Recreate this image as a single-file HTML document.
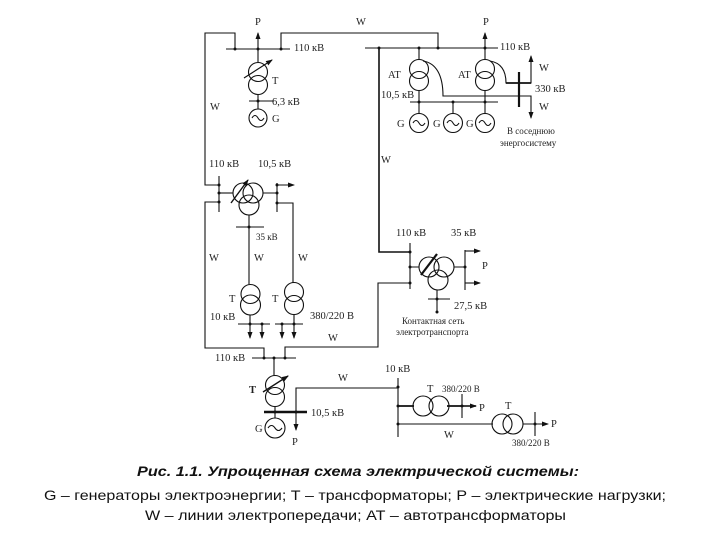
<!DOCTYPE html>
<html><head><meta charset="utf-8"><style>
html,body{margin:0;padding:0;background:#fff}
svg{display:block}
.l{font-family:"Liberation Serif",serif;font-size:10.5px;fill:#222}
.s{font-size:9px}
.c{font-family:"Liberation Sans",sans-serif;font-size:14px;fill:#111}
</style></head><body>
<svg width="720" height="540" viewBox="0 0 720 540" xmlns="http://www.w3.org/2000/svg">
<defs>
<marker id="a" markerWidth="7" markerHeight="6" refX="6" refY="3" orient="auto" markerUnits="userSpaceOnUse"><path d="M0,0.5L7,3L0,5.5z" fill="#111"/></marker>
</defs>
<g fill="none" stroke="#111" stroke-width="1.1">
<!-- outer wires -->
<path d="M235,49V33H205V185H219"/>
<path d="M281,49V33H438V48"/>
<path d="M226,49H290"/>
<path d="M365,48H498"/>
<path d="M379,48V252H410" stroke-width="1.6"/>
<path d="M410,283H378V347H285V358" />
<path d="M219,202H205V348H264V358"/>
<path d="M252,358H296"/>
<!-- T1 -->
<circle cx="258" cy="72" r="9.5"/><circle cx="258" cy="85" r="9.5"/>
<path d="M258,62V49"/><path d="M258,49V33" marker-end="url(#a)"/>
<path d="M244,78L272,60" marker-end="url(#a)"/>
<path d="M258,95V109"/><path d="M249,101H274"/>
<circle cx="258" cy="118" r="9"/>
<path d="M252,118q3,-5 6,0t6,0"/>
<!-- AT1 / AT2 -->
<circle cx="419" cy="69" r="9.5"/><circle cx="419" cy="81" r="9.5"/>
<circle cx="485" cy="69" r="9.5"/><circle cx="485" cy="81" r="9.5"/>
<path d="M419,48V59M419,91V113M485,91V113M485,59V48"/>
<path d="M485,48V33" marker-end="url(#a)"/>
<path d="M410,102H498"/><path d="M453,102V113"/>
<circle cx="419" cy="123" r="9.5"/><circle cx="453" cy="123" r="9.5"/><circle cx="485" cy="123" r="9.5"/>
<path d="M413,123q3,-5 6,0t6,0M447,123q3,-5 6,0t6,0M479,123q3,-5 6,0t6,0"/>
<path d="M423,61C436,63 443,75 443,96H531V118" marker-end="url(#a)"/>
<path d="M490,61C502,63 506,72 506,83H531V56" marker-end="url(#a)"/>
<path d="M519,72V107" stroke-width="2.2"/>
<path d="M506,83H531" stroke-width="1.8"/>
<!-- three winding -->
<path d="M219,176V212"/>
<path d="M219,193H233"/>
<circle cx="243" cy="193" r="10"/><circle cx="253" cy="193" r="10"/><circle cx="249" cy="205" r="10"/>
<path d="M231,203L248,180" stroke-width="1.4" marker-end="url(#a)"/>
<path d="M263,193H277M277,183V212"/>
<path d="M277,185H294" marker-end="url(#a)"/>
<path d="M277,203H293V283"/>
<path d="M249,215V284"/><path d="M236,227H264"/>
<circle cx="250.500" cy="294" r="9.500"/><circle cx="250.500" cy="305" r="10"/>
<circle cx="294" cy="292" r="9.500"/><circle cx="294" cy="305" r="9.500"/>
<path d="M250,315V324M294,315V324"/>
<path d="M238,324H270M275,324H303"/>
<path d="M250,324V338" marker-end="url(#a)"/><path d="M262,324V338" marker-end="url(#a)"/><path d="M282,324V338" marker-end="url(#a)"/><path d="M294,324V338" marker-end="url(#a)"/>
<!-- traction -->
<path d="M410,243V289M410,267H419"/>
<circle cx="429" cy="267" r="10"/><circle cx="444" cy="267" r="10"/><circle cx="438" cy="280" r="10"/>
<path d="M421,275L437,254" stroke-width="2.2"/>
<path d="M454,267H465M465,250V290"/>
<path d="M465,251H480" marker-end="url(#a)"/><path d="M465,283H480" marker-end="url(#a)"/>
<path d="M428,299H450M437,290V312"/>
<!-- bottom T -->
<circle cx="275" cy="385" r="9.500"/><circle cx="275" cy="397" r="9.500"/>
<path d="M274,358V375"/>
<path d="M263,392L288,376" stroke-width="1.4" marker-end="url(#a)"/>
<path d="M264,412H307" stroke-width="2.4"/>
<path d="M275,407V418"/>
<circle cx="275" cy="428" r="10"/>
<path d="M268,428q3.500,-5 7,0t7,0"/>
<path d="M296,412V388H398"/>
<path d="M296,412V430" marker-end="url(#a)"/>
<!-- right lower -->
<path d="M398,378V437"/>
<path d="M398,406H414M447,406H462" stroke-width="1.8"/>
<circle cx="423" cy="406" r="10"/><circle cx="439" cy="406" r="10"/>
<path d="M462,394V418"/>
<path d="M462,406H476" stroke-width="1.6" marker-end="url(#a)"/>
<path d="M398,424H493"/>
<circle cx="502" cy="424" r="10"/><circle cx="513" cy="424" r="10"/>
<path d="M523,424H548" marker-end="url(#a)"/>
<path d="M535,412V436"/>
</g>
<g fill="#111">
<circle cx="235" cy="49" r="1.500"/><circle cx="281" cy="49" r="1.500"/><circle cx="258" cy="49" r="1.500"/><circle cx="258" cy="101" r="1.500"/>
<circle cx="379" cy="48" r="1.500"/><circle cx="419" cy="48" r="1.500"/><circle cx="438" cy="48" r="1.500"/><circle cx="485" cy="48" r="1.500"/>
<circle cx="419" cy="102" r="1.500"/><circle cx="453" cy="102" r="1.500"/><circle cx="485" cy="102" r="1.500"/>
<circle cx="219" cy="185" r="1.500"/><circle cx="219" cy="193" r="1.500"/><circle cx="219" cy="202" r="1.500"/>
<circle cx="277" cy="185" r="1.500"/><circle cx="277" cy="193" r="1.500"/><circle cx="277" cy="203" r="1.500"/><circle cx="249" cy="227" r="1.500"/>
<circle cx="250" cy="324" r="1.500"/><circle cx="262" cy="324" r="1.500"/><circle cx="282" cy="324" r="1.500"/><circle cx="294" cy="324" r="1.500"/>
<circle cx="410" cy="252" r="1.500"/><circle cx="410" cy="267" r="1.500"/><circle cx="410" cy="283" r="1.500"/><circle cx="465" cy="267" r="1.500"/><circle cx="437" cy="299" r="1.500"/><circle cx="437" cy="312" r="1.500"/>
<circle cx="264" cy="358" r="1.500"/><circle cx="274" cy="358" r="1.500"/><circle cx="285" cy="358" r="1.500"/><circle cx="275" cy="412" r="1.500"/><circle cx="296" cy="412" r="1.500"/>
<circle cx="398" cy="387" r="1.500"/><circle cx="398" cy="406" r="1.500"/><circle cx="398" cy="424" r="1.500"/><circle cx="462" cy="406" r="1.500"/><circle cx="535" cy="424" r="1.500"/>
</g>
<g class="l">
<text x="255" y="25">P</text><text x="356" y="25">W</text><text x="483" y="25">P</text>
<text x="294" y="51">110 кВ</text><text x="272" y="84">T</text><text x="272" y="105">6,3 кВ</text><text x="272" y="122">G</text>
<text x="210" y="110">W</text>
<text x="388" y="78">AT</text><text x="458" y="78">AT</text>
<text x="381" y="98">10,5 кВ</text>
<text x="500" y="50">110 кВ</text><text x="539" y="71">W</text><text x="539" y="110">W</text><text x="535" y="92">330 кВ</text>
<text x="397" y="127">G</text><text x="433" y="127">G</text><text x="466" y="127">G</text>
<text x="381" y="163">W</text>
<text class="l s" x="507" y="134">В соседнюю</text><text class="l s" x="500" y="146">энергосистему</text>
<text x="209" y="167">110 кВ</text><text x="258" y="167">10,5 кВ</text>
<text class="l s" x="256" y="240">35 кВ</text>
<text x="209" y="261">W</text><text x="254" y="261">W</text><text x="298" y="261">W</text>
<text x="229" y="302">T</text><text x="272" y="302">T</text>
<text x="210" y="320">10 кВ</text><text x="310" y="319">380/220 В</text><text x="328" y="341">W</text>
<text x="396" y="236">110 кВ</text><text x="451" y="236">35 кВ</text><text x="482" y="269">P</text><text x="454" y="309">27,5 кВ</text>
<text class="l s" x="402" y="324">Контактная сеть</text><text class="l s" x="396" y="335">электротранспорта</text>
<text x="215" y="361">110 кВ</text><text x="249" y="393" font-weight="bold">T</text><text x="338" y="381">W</text>
<text x="311" y="416">10,5 кВ</text><text x="255" y="432">G</text><text x="292" y="445">P</text>
<text x="385" y="372">10 кВ</text><text x="427" y="392">T</text><text x="442" y="392" class="l s">380/220 В</text>
<text x="479" y="411">P</text><text x="444" y="438">W</text><text x="505" y="409">T</text><text x="551" y="427">P</text><text class="l s" x="512" y="446">380/220 В</text>
</g>
<text class="c" x="137" y="476" font-weight="bold" font-style="italic" textLength="442" lengthAdjust="spacingAndGlyphs">Рис. 1.1. Упрощенная схема электрической системы:</text>
<text class="c" x="44" y="500" textLength="622" lengthAdjust="spacingAndGlyphs">G – генераторы электроэнергии; Т – трансформаторы; Р – электрические нагрузки;</text>
<text class="c" x="145" y="520" textLength="421" lengthAdjust="spacingAndGlyphs">W – линии электропередачи; АТ – автотрансформаторы</text>
</svg>
</body></html>
